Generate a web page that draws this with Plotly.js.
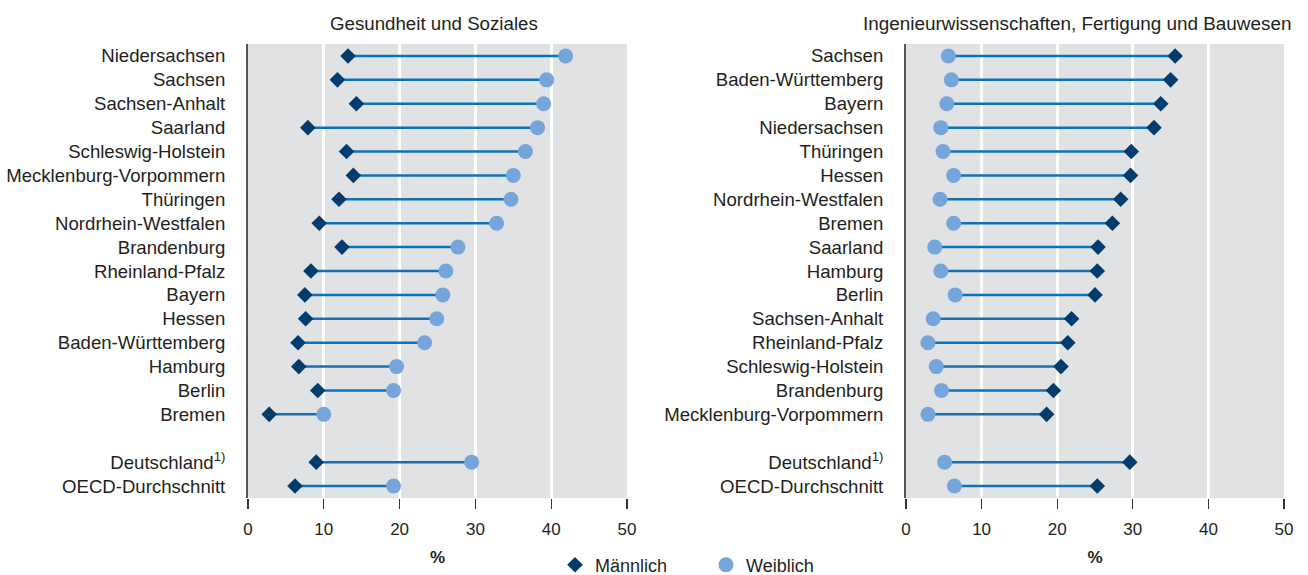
<!DOCTYPE html>
<html>
<head>
<meta charset="utf-8">
<script src="https://cdn.plot.ly/plotly-3.0.1.min.js"></script>
<style>html,body{margin:0;padding:0;background:#fff;}#chart{width:1308px;height:575px;}</style>
</head>
<body>
<div id="chart"></div>
<script>
// Left panel: Gesundheit und Soziales
const catsLeft = ["Niedersachsen","Sachsen","Sachsen-Anhalt","Saarland","Schleswig-Holstein","Mecklenburg-Vorpommern","Thüringen","Nordrhein-Westfalen","Brandenburg","Rheinland-Pfalz","Bayern","Hessen","Baden-Württemberg","Hamburg","Berlin","Bremen","","Deutschland<sup>1)</sup>","OECD-Durchschnitt"];
const maleLeft   = [13.2,11.8,14.3,7.9,13.0,13.9,12.0,9.4,12.4,8.3,7.5,7.6,6.6,6.7,9.2,2.8,null,9.0,6.2];
const femaleLeft = [41.9,39.4,39.0,38.2,36.6,35.0,34.7,32.8,27.7,26.1,25.7,24.9,23.3,19.6,19.2,10.0,null,29.5,19.2];

// Right panel: Ingenieurwissenschaften, Fertigung und Bauwesen
const catsRight = ["Sachsen","Baden-Württemberg","Bayern","Niedersachsen","Thüringen","Hessen","Nordrhein-Westfalen","Bremen","Saarland","Hamburg","Berlin","Sachsen-Anhalt","Rheinland-Pfalz","Schleswig-Holstein","Brandenburg","Mecklenburg-Vorpommern","","Deutschland<sup>1)</sup>","OECD-Durchschnitt"];
const maleRight   = [35.6,35.0,33.7,32.8,29.8,29.7,28.4,27.3,25.4,25.3,25.0,21.9,21.4,20.5,19.5,18.6,null,29.6,25.3];
const femaleRight = [5.6,6.0,5.4,4.6,4.9,6.3,4.5,6.3,3.8,4.6,6.5,3.6,2.9,4.0,4.7,2.9,null,5.1,6.4];

const titleLeft = "Gesundheit und Soziales";
const titleRight = "Ingenieurwissenschaften, Fertigung und Bauwesen";
const xTickVals = [0,10,20,30,40,50];
const legendNames = ["Männlich","Weiblich"];

const C_MALE = "#003d6e", C_FEMALE = "#76a5db", C_LINE = "#0b72bc";
const FONT = "Liberation Sans, Arial, sans-serif";
const TXT = "#231f20";

function idx(arr){ return arr.map((_, i) => i); }

function segTrace(male, female, xa, ya){
  const xs = [], ys = [];
  male.forEach((m, i) => {
    if (m === null || female[i] === null) return;
    xs.push(m, female[i], null); ys.push(i, i, null);
  });
  return {type:"scatter", mode:"lines", x:xs, y:ys, xaxis:xa, yaxis:ya,
          line:{color:C_LINE, width:2.5}, showlegend:false, hoverinfo:"skip"};
}
function ptTrace(vals, name, sym, color, size, xa, ya, showLeg){
  return {type:"scatter", mode:"markers", x:vals, y:idx(vals), xaxis:xa, yaxis:ya, name:name,
          marker:{symbol:sym, color:color, size:size, line:{width:0}}, showlegend:showLeg, cliponaxis:false};
}

const data = [
  segTrace(maleLeft, femaleLeft, "x", "y"),
  segTrace(maleRight, femaleRight, "x2", "y2"),
  ptTrace(femaleLeft, legendNames[1], "circle", C_FEMALE, 15, "x", "y", false),
  ptTrace(maleLeft, legendNames[0], "diamond", C_MALE, 12, "x", "y", true),
  ptTrace(femaleRight, legendNames[1], "circle", C_FEMALE, 15, "x2", "y2", true),
  ptTrace(maleRight, legendNames[0], "diamond", C_MALE, 12, "x2", "y2", false)
];

const W = 1308, H = 575;
const yTop = 1 - 44/H, yBot = 1 - 498/H;

function xAxis(domain, anchor){
  return {domain:domain, anchor:anchor, range:[0,50], tickvals:xTickVals, ticks:"outside", ticklen:10,
          tickcolor:"#333", tickwidth:1.2, showgrid:true, gridcolor:"#ffffff", gridwidth:3,
          zeroline:false, showline:false, fixedrange:true, ticklabelstandoff:6, automargin:false,
          tickfont:{family:FONT, size:17, color:TXT},
          title:{text:"<b>%</b>", font:{family:FONT, size:17, color:TXT}, standoff:12}};
}
function yAxis(cats, anchor){
  const vals = idx(cats).filter(i => cats[i] !== "");
  return {domain:[yBot, yTop], anchor:anchor, range:[18.5,-0.5], tickvals:vals, ticktext:vals.map(i => cats[i]),
          ticks:"", showgrid:false, zeroline:false, showline:true, linecolor:"#555555", linewidth:2,
          ticklabelstandoff:17, fixedrange:true, automargin:false,
          tickfont:{family:FONT, size:18.6, color:TXT}};
}

const layout = {
  width:W, height:H, margin:{l:0, r:0, t:0, b:0, autoexpand:false},
  paper_bgcolor:"#ffffff", plot_bgcolor:"#e1e2e4",
  font:{family:FONT, color:TXT},
  xaxis: xAxis([248/W, 627/W], "y"),
  yaxis: yAxis(catsLeft, "x"),
  xaxis2: xAxis([906/W, 1284/W], "y2"),
  yaxis2: yAxis(catsRight, "x2"),
  showlegend:true,
  legend:{orientation:"h", x:555/W, xanchor:"left", y:1-565/H, yanchor:"middle",
          font:{family:FONT, size:18, color:TXT}, bgcolor:"rgba(0,0,0,0)", itemwidth:30,
          entrywidth:106, entrywidthmode:"pixels", traceorder:"normal"},
  annotations:[
    {text:titleLeft, xref:"paper", yref:"paper", x:434/W, y:1-23/H, xanchor:"center", yanchor:"middle",
     showarrow:false, font:{family:FONT, size:18.7, color:TXT}},
    {text:titleRight, xref:"paper", yref:"paper", x:1077/W, y:1-23/H, xanchor:"center", yanchor:"middle",
     showarrow:false, font:{family:FONT, size:18.9, color:TXT}}
  ]
};

Plotly.newPlot("chart", data, layout, {displayModeBar:false, staticPlot:true});
</script>
</body>
</html>
